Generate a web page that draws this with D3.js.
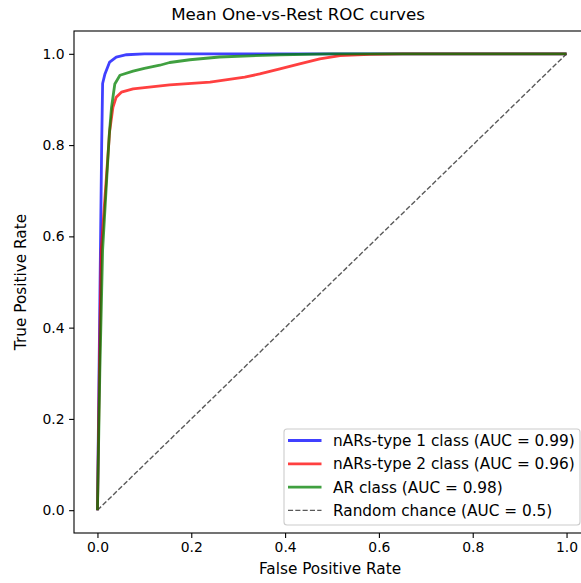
<!DOCTYPE html>
<html>
<head>
<meta charset="utf-8">
<script src="https://cdn.jsdelivr.net/npm/d3@7"></script>
<style>
  body { margin: 0; background: #fff; }
  text { font-family: "DejaVu Sans", sans-serif; fill: #000; }
</style>
</head>
<body>
<svg width="581" height="583"></svg>
<script>
// Datos
const blueFpr = [0, 0.005, 0.009, 0.011, 0.016, 0.026, 0.04, 0.062, 0.1, 1];
const blueTpr = [0, 0.45, 0.8, 0.935, 0.956, 0.982, 0.993, 0.998, 1, 1];

const redFpr = [0, 0.004, 0.008, 0.017, 0.026, 0.033, 0.04, 0.051, 0.076, 0.154, 0.24, 0.314, 0.346, 0.389, 0.431, 0.474, 0.517, 0.58, 0.65, 1];
const redTpr = [0, 0.3, 0.57, 0.70, 0.83, 0.883, 0.905, 0.916, 0.923, 0.932, 0.938, 0.949, 0.956, 0.967, 0.978, 0.989, 0.996, 0.999, 1, 1];

const greenFpr = [0, 0.005, 0.011, 0.025, 0.030, 0.037, 0.048, 0.076, 0.1, 0.133, 0.154, 0.197, 0.26, 0.39, 0.5, 1];
const greenTpr = [0, 0.3, 0.57, 0.82, 0.883, 0.934, 0.953, 0.962, 0.968, 0.975, 0.981, 0.987, 0.993, 0.998, 1, 1];

const chanceFpr = [0, 1];
const chanceTpr = [0, 1];

const seriesNames = ['nARs-type 1 class (AUC = 0.99)', 'nARs-type 2 class (AUC = 0.96)', 'AR class (AUC = 0.98)', 'Random chance (AUC = 0.5)'];
const tickValues = [0, 0.2, 0.4, 0.6, 0.8, 1.0];

const svg = d3.select('svg');

// Limites del area de ejes (el borde derecho queda fuera de la imagen)
const plotLeft = 74, plotRight = 590, plotTop = 31, plotBottom = 533;

const x = d3.scaleLinear().domain([-0.05, 1.05]).range([plotLeft, plotRight]);
const y = d3.scaleLinear().domain([-0.05, 1.05]).range([plotBottom, plotTop]);

// Titulo
svg.append('text')
  .attr('x', 298).attr('y', 20)
  .attr('text-anchor', 'middle')
  .style('font-size', '16.7px')
  .text('Mean One-vs-Rest ROC curves');

// Ejes
const xAxis = svg.append('g')
  .attr('transform', `translate(0,${plotBottom})`)
  .call(d3.axisBottom(x).tickValues(tickValues).tickFormat(d3.format('.1f')).tickSize(4.9).tickPadding(4.5));
const yAxis = svg.append('g')
  .attr('transform', `translate(${plotLeft},0)`)
  .call(d3.axisLeft(y).tickValues(tickValues).tickFormat(d3.format('.1f')).tickSize(4.9).tickPadding(4.5));

[xAxis, yAxis].forEach(a => {
  a.select('.domain').remove();
  a.selectAll('line').attr('stroke', '#000').attr('stroke-width', 1.1);
  a.selectAll('text').style('font-size', '13.9px').style('font-family', '"DejaVu Sans", sans-serif').attr('fill', '#000');
});

// Marco
svg.append('rect')
  .attr('x', plotLeft).attr('y', plotTop)
  .attr('width', plotRight - plotLeft).attr('height', plotBottom - plotTop)
  .attr('fill', 'none').attr('stroke', '#000').attr('stroke-width', 1.1);

// Etiquetas de ejes
svg.append('text')
  .attr('x', 330).attr('y', 574)
  .attr('text-anchor', 'middle')
  .style('font-size', '15.3px')
  .text('False Positive Rate');
svg.append('text')
  .attr('transform', `translate(26,282) rotate(-90)`)
  .attr('text-anchor', 'middle')
  .style('font-size', '15.3px')
  .text('True Positive Rate');

const line = d3.line().x(d => x(d[0])).y(d => y(d[1]));

const series = [
  { fpr: blueFpr, tpr: blueTpr, color: '#0000ff', dash: null, width: 2.8, opacity: 0.75 },
  { fpr: redFpr, tpr: redTpr, color: '#ff0000', dash: null, width: 2.8, opacity: 0.75 },
  { fpr: greenFpr, tpr: greenTpr, color: '#008000', dash: null, width: 2.8, opacity: 0.75 },
  { fpr: chanceFpr, tpr: chanceTpr, color: '#000000', dash: '5.1,2.2', width: 1.4, opacity: 0.65 }
];

// Dibujar la diagonal primero, luego las curvas
[3, 0, 1, 2].forEach(i => {
  const s = series[i];
  svg.append('path')
    .datum(d3.zip(s.fpr, s.tpr))
    .attr('d', line)
    .attr('fill', 'none')
    .attr('stroke', s.color)
    .attr('stroke-width', s.width)
    .attr('stroke-opacity', s.opacity)
    .attr('stroke-dasharray', s.dash)
    .attr('stroke-linejoin', 'round');
});

// Leyenda
const legend = svg.append('g');
legend.append('rect')
  .attr('x', 284).attr('y', 429)
  .attr('width', 296).attr('height', 96)
  .attr('rx', 3)
  .attr('fill', '#fff').attr('fill-opacity', 0.8)
  .attr('stroke', '#ccc').attr('stroke-width', 1.1);

seriesNames.forEach((name, i) => {
  const s = series[i];
  const cy = 440.5 + i * 23.3;
  legend.append('line')
    .attr('x1', 288).attr('x2', 321.5)
    .attr('y1', cy).attr('y2', cy)
    .attr('stroke', s.color)
    .attr('stroke-width', s.width)
    .attr('stroke-opacity', s.opacity)
    .attr('stroke-dasharray', s.dash);
  legend.append('text')
    .attr('x', 333).attr('y', cy + 5.5)
    .style('font-size', '15.3px')
    .text(name);
});
</script>
</body>
</html>
